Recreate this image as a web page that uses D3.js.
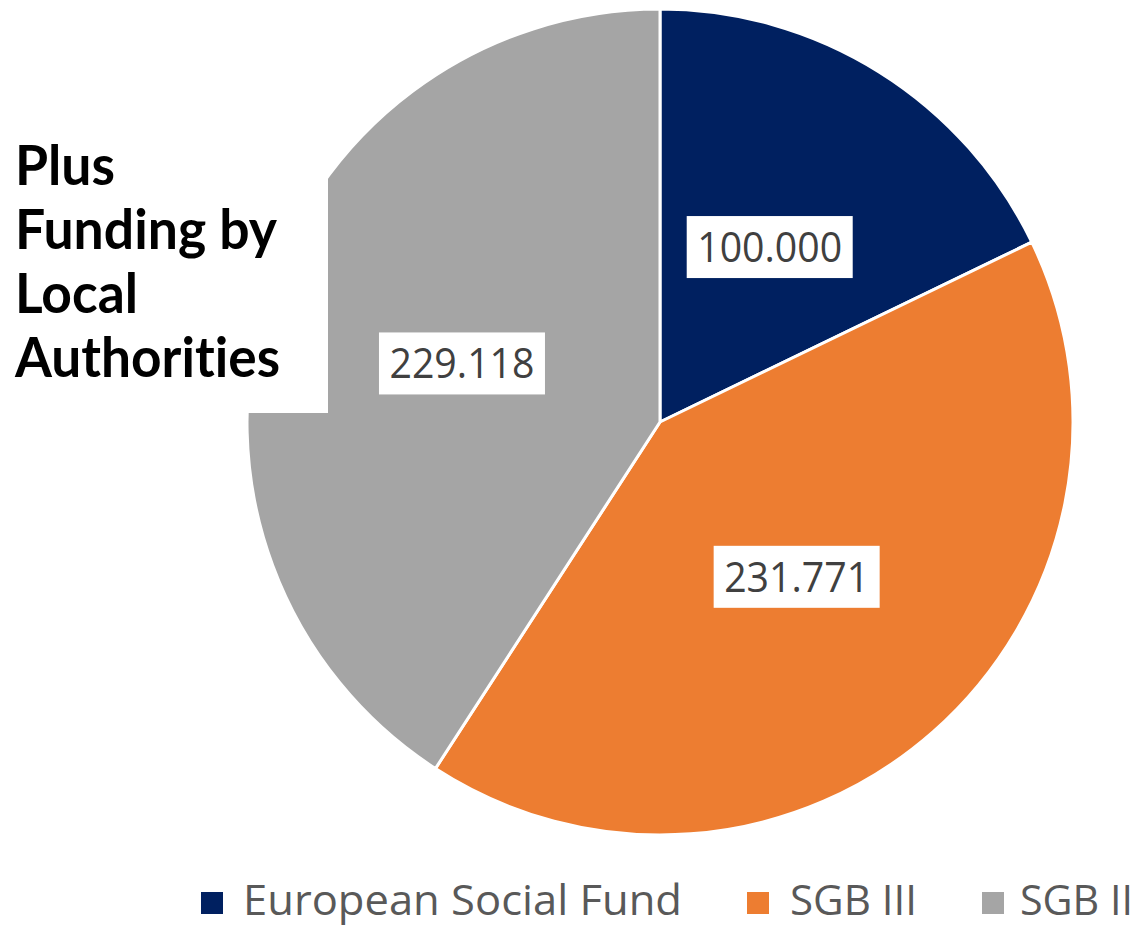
<!DOCTYPE html>
<html>
<head>
<meta charset="utf-8">
<script src="https://cdn.jsdelivr.net/npm/d3@7"></script>
<style>
  html, body { margin: 0; padding: 0; background: #fff; }
  svg { display: block; }
  text { font-variant-ligatures: none; font-feature-settings: "liga" 0, "clig" 0; }
</style>
</head>
<body>
<svg id="chart" width="1135" height="928"></svg>
<script>
// Funding sources
const categories = ["European Social Fund", "SGB III", "SGB II"];
const values = [100000, 231771, 229118];
const valueLabels = ["100.000", "231.771", "229.118"];
const colors = ["#002060", "#ED7D31", "#A5A5A5"];
const noteLines = ["Plus", "Funding by", "Local", "Authorities"];

const svg = d3.select("#chart");
const cx = 660, cy = 422, R = 413;

const data = categories.map((c, i) => ({ name: c, value: values[i], label: valueLabels[i], color: colors[i] }));

const pie = d3.pie().sort(null).value(d => d.value).startAngle(0).endAngle(2 * Math.PI);
const arc = d3.arc().innerRadius(0).outerRadius(R);
const arcs = pie(data);

const g = svg.append("g").attr("transform", `translate(${cx},${cy})`);

g.selectAll("path.slice")
  .data(arcs)
  .join("path")
  .attr("class", "slice")
  .attr("d", arc)
  .attr("fill", d => d.data.color)
  .attr("stroke", "#fff")
  .attr("stroke-width", 3)
  .attr("stroke-linejoin", "round");

// Value labels in white boxes at the slice centroids
const labelFont = "'Open Sans', 'Noto Sans', sans-serif";
const lbl = g.selectAll("g.lbl")
  .data(arcs)
  .join("g")
  .attr("class", "lbl")
  .attr("transform", d => {
    const [x, y] = arc.centroid(d);
    return `translate(${x},${y})`;
  });

lbl.append("rect")
  .attr("x", -83)
  .attr("y", -31)
  .attr("width", 166)
  .attr("height", 62)
  .attr("fill", "#fff");

lbl.append("text")
  .attr("text-anchor", "middle")
  .attr("y", 15)
  .attr("font-family", labelFont)
  .attr("font-size", 42)
  .attr("fill", "#404040")
  .attr("textLength", 145)
  .attr("lengthAdjust", "spacingAndGlyphs")
  .text(d => d.data.label);

// Annotation box over the left side of the pie
svg.append("rect")
  .attr("x", 0)
  .attr("y", 100)
  .attr("width", 328)
  .attr("height", 313)
  .attr("fill", "#fff");

const noteWidths = [100, 262, 123, 265];
svg.append("g")
  .selectAll("text")
  .data(noteLines)
  .join("text")
  .attr("x", 15)
  .attr("y", (d, i) => 185 + i * 64)
  .attr("font-family", "Lato, 'Open Sans', sans-serif")
  .attr("font-weight", "bold")
  .attr("font-size", 56)
  .attr("fill", "#000")
  .attr("textLength", (d, i) => noteWidths[i])
  .attr("lengthAdjust", "spacingAndGlyphs")
  .text(d => d);

// Legend
const legendX = [201, 747, 982];
const legendTextW = [439, 127, 113];
const leg = svg.append("g")
  .selectAll("g")
  .data(data)
  .join("g")
  .attr("transform", (d, i) => `translate(${legendX[i]},892)`);

leg.append("rect")
  .attr("width", 22)
  .attr("height", 22)
  .attr("fill", d => d.color);

leg.append("text")
  .attr("x", (d, i) => i === 0 ? 42 : (i === 1 ? 43 : 38))
  .attr("y", 23)
  .attr("font-family", labelFont)
  .attr("font-size", 42)
  .attr("fill", "#595959")
  .attr("textLength", (d, i) => legendTextW[i])
  .attr("lengthAdjust", "spacingAndGlyphs")
  .text(d => d.name);
</script>
</body>
</html>
